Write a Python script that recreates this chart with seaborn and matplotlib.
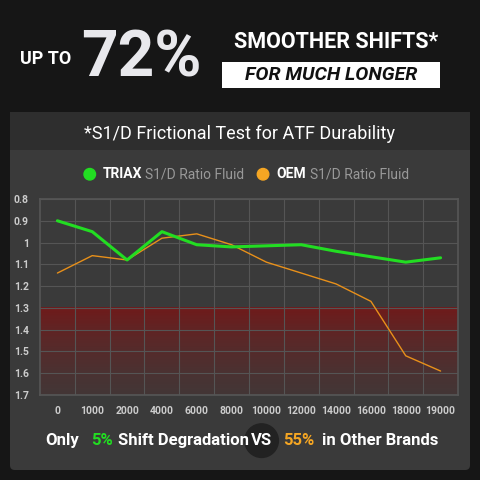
import matplotlib
matplotlib.use("Agg")
import matplotlib.pyplot as plt
import seaborn as sns
import numpy as np
import pandas as pd
from matplotlib.patches import FancyBboxPatch, Rectangle
from matplotlib.colors import LinearSegmentedColormap

mileage = ["0","1000","2000","4000","6000","8000","10000","12000","14000","16000","18000","19000"]
triax = [0.90,0.95,1.08,0.95,1.01,1.02,1.015,1.01,1.04,1.065,1.09,1.07]
oem = [1.14,1.06,1.08,0.98,0.96,1.01,1.09,1.14,1.19,1.27,1.52,1.59]
yticks = [0.8,0.9,1.0,1.1,1.2,1.3,1.4,1.5,1.6,1.7]
ylabels = ["0.8","0.9","1","1.1","1.2","1.3","1.4","1.5","1.6","1.7"]

sns.set_theme(style="dark")
plt.rcParams['font.family'] = ['Roboto', 'DejaVu Sans']

fig = plt.figure(figsize=(4.8,4.8), dpi=100)
fig.patch.set_facecolor("#161616")
panel = FancyBboxPatch((10/480, 10/480), 460/480, 358/480, boxstyle="round,pad=0,rounding_size=0.01",
                       transform=fig.transFigure, facecolor="#3a3a3a", edgecolor="none", zorder=-5)
fig.patches.append(panel)
fig.patches.append(Rectangle((10/480, 330/480), 460/480, 38/480, transform=fig.transFigure,
                             facecolor="#2e2e2e", edgecolor="none", zorder=-4))

fig.text(0.095, 0.878, "UP TO", color="white", fontsize=13, fontweight="bold", ha="center", va="center")
fig.text(0.295, 0.878, "72%", color="#e8e8ec", fontsize=46, fontweight="bold", ha="center", va="center")
fig.text(0.7, 0.912, "SMOOTHER SHIFTS*", color="white", fontsize=15.5, fontweight="bold", ha="center", va="center")
fig.patches.append(Rectangle((222/480, 392/480), 218/480, 26/480, transform=fig.transFigure,
                             facecolor="white", edgecolor="none"))
fig.text(0.69, 0.844, "FOR MUCH LONGER", color="#111111", fontsize=14, fontweight="bold",
         fontstyle="italic", ha="center", va="center")
fig.text(0.5, 0.72, "*S1/D Frictional Test for ATF Durability", color="white", fontsize=13, ha="center", va="center")

# legend
ly = 0.637
fig.patches.append(plt.Circle((0.187, ly), 0.012, transform=fig.transFigure, color="#22dd22"))
fig.text(0.215, ly, "TRIAX", color="white", fontsize=10, fontweight="bold", ha="left", va="center")
fig.text(0.303, ly, "S1/D Ratio Fluid", color="#999999", fontsize=10, ha="left", va="center")
fig.patches.append(plt.Circle((0.548, ly), 0.012, transform=fig.transFigure, color="#f5a623"))
fig.text(0.575, ly, "OEM", color="white", fontsize=10, fontweight="bold", ha="left", va="center")
fig.text(0.645, ly, "S1/D Ratio Fluid", color="#999999", fontsize=10, ha="left", va="center")

ax = fig.add_axes([40/480, 85/480, 418/480, 196/480])
ax.set_zorder(2)
ax.set_facecolor("#3a3a3a")
df = pd.DataFrame({"x": mileage*2, "y": triax+oem, "s": ["TRIAX"]*12+["OEM"]*12})
sns.lineplot(data=df[df.s=="OEM"], x="x", y="y", color="#e8901a", lw=1.0, ax=ax, sort=False, zorder=3)
sns.lineplot(data=df[df.s=="TRIAX"], x="x", y="y", color="#22dd22", lw=2.2, ax=ax, sort=False, zorder=4)
grad = np.linspace(0, 1, 100).reshape(-1, 1)
cmap = LinearSegmentedColormap.from_list("r", [(0.45,0.1,0.1,0.95),(0.3,0.2,0.2,0.5)])
ax.imshow(grad, extent=[-0.5, 11.5, 1.7, 1.3], aspect="auto", cmap=cmap, zorder=0.5)
ax.set_xlim(-0.5, 11.5)
ax.set_ylim(1.7, 0.8)
ax.set_yticks(yticks)
ax.set_yticklabels(ylabels)
ax.set_xticks(range(12))
ax.set_xticklabels(mileage)
ax.grid(False)
for y in yticks:
    ax.axhline(y, color="#555555", lw=0.8, zorder=0.6)
for x in np.arange(0.5, 11, 1):
    ax.axvline(x, color="#555555", lw=0.8, zorder=0.6)
ax.tick_params(colors="#bbbbbb", labelsize=7.5, length=0, pad=8)
for lab in ax.get_xticklabels()+ax.get_yticklabels():
    lab.set_color("#cccccc"); lab.set_fontweight("bold")
ax.set_xlabel(""); ax.set_ylabel("")
for s in ax.spines.values():
    s.set_color("#555555")

y0 = 0.082
fig.patches.append(plt.Circle((0.545, y0), 0.035, transform=fig.transFigure, color="#222222"))
fig.text(0.094, y0, "Only", color="white", fontsize=12, fontweight="bold", va="center")
fig.text(0.19, y0, "5%", color="#22dd22", fontsize=12, fontweight="bold", va="center")
fig.text(0.245, y0, "Shift Degradation", color="white", fontsize=12, fontweight="bold", va="center")
fig.text(0.545, y0, "VS", color="white", fontsize=12, fontweight="bold", va="center", ha="center")
fig.text(0.59, y0, "55%", color="#f5a623", fontsize=12, fontweight="bold", va="center")
fig.text(0.67, y0, "in Other Brands", color="white", fontsize=12, fontweight="bold", va="center")

fig.savefig("out.png", dpi=100, facecolor=fig.get_facecolor())
